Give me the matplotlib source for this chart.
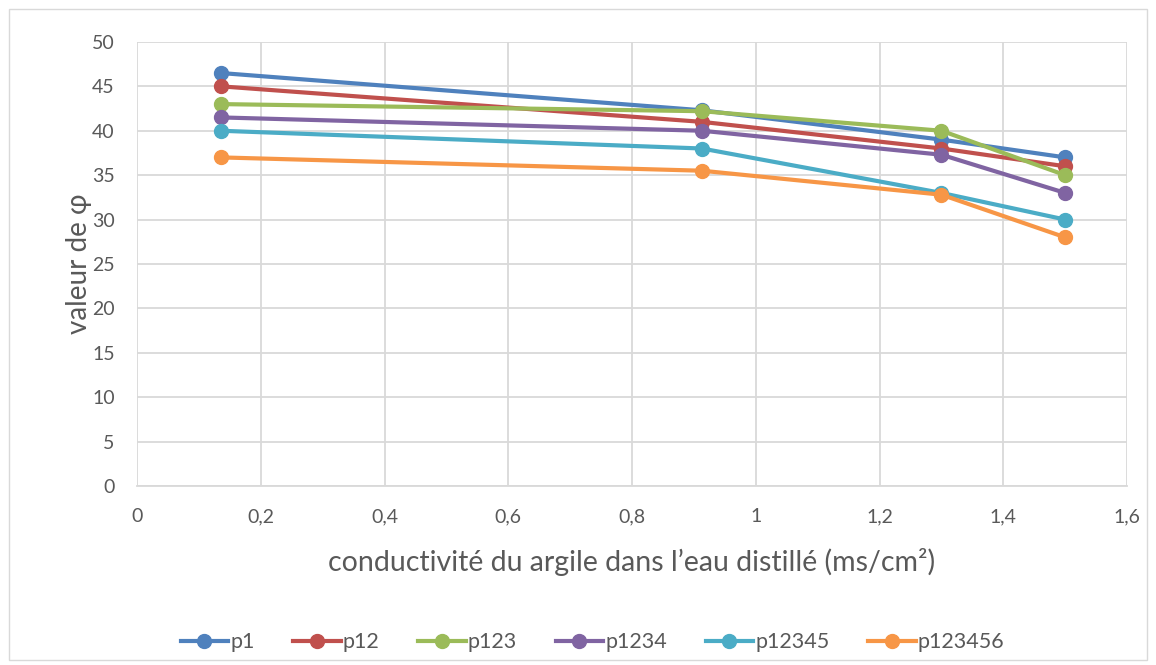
import matplotlib.pyplot as plt
from matplotlib.patches import Rectangle
from matplotlib.ticker import FuncFormatter, MultipleLocator

conductivite = [0.135, 0.913, 1.30, 1.50]
p1 = [46.5, 42.3, 39.0, 37.0]
p12 = [45.0, 41.0, 38.0, 36.0]
p123 = [43.0, 42.2, 40.0, 35.0]
p1234 = [41.5, 40.0, 37.3, 33.0]
p12345 = [40.0, 38.0, 33.0, 30.0]
p123456 = [37.0, 35.5, 32.8, 28.0]

series = [('p1', p1), ('p12', p12), ('p123', p123),
          ('p1234', p1234), ('p12345', p12345), ('p123456', p123456)]
colors = ['#4F81BD', '#C0504D', '#9BBB59', '#8064A2', '#4BACC6', '#F79646']

plt.rcParams['font.family'] = ['Lato', 'DejaVu Sans']

fig = plt.figure(figsize=(11.56, 6.65), dpi=100)
ax = fig.add_axes([0.1185, 0.269, 0.8565, 0.668])

for (name, vals), c in zip(series, colors):
    ax.plot(conductivite, vals, color=c, linewidth=3, marker='o',
            markersize=10, label=name, zorder=3)

ax.set_xlim(0, 1.6)
ax.set_ylim(0, 50)
ax.xaxis.set_major_locator(MultipleLocator(0.2))
ax.yaxis.set_major_locator(MultipleLocator(5))
ax.xaxis.set_major_formatter(FuncFormatter(lambda v, p: f'{v:g}'.replace('.', ',')))
ax.grid(True, color='#D9D9D9', linewidth=1.3)
ax.set_axisbelow(True)
for s in ['top', 'right', 'left']:
    ax.spines[s].set_visible(False)
ax.spines['bottom'].set_color('#D9D9D9')
ax.spines['bottom'].set_linewidth(1.3)
ax.tick_params(length=0, labelsize=14, colors='#595959')
ax.tick_params(axis='x', pad=16)
ax.tick_params(axis='y', pad=16)

ax.set_xlabel('conductivité du argile dans l\u2019eau distillé (ms/cm²)',
              fontsize=20.5, color='#595959', labelpad=16)
ax.set_ylabel('valeur de φ', fontsize=20, color='#595959', labelpad=0)

ax.legend(loc='upper center', bbox_to_anchor=(0.46, -0.285), ncol=6,
          frameon=False, fontsize=15.5, labelcolor='#595959',
          handlelength=2.2, handletextpad=0.1, columnspacing=1.8)

fig.patches.append(Rectangle((0.008, 0.008), 0.984, 0.978, transform=fig.transFigure,
                             fill=False, edgecolor='#D9D9D9', linewidth=1))

fig.savefig('out.png', dpi=100)
